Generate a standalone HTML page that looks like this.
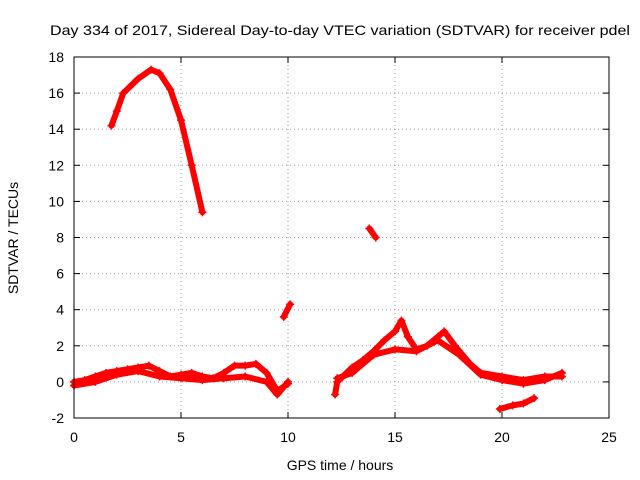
<!DOCTYPE html>
<html><head><meta charset="utf-8"><style>
body{margin:0;background:#fff}
svg{display:block;font-family:"Liberation Sans",sans-serif}
</style></head><body>
<svg id="chart" width="640" height="480">
<text x="50" y="35" font-size="14" textLength="580" lengthAdjust="spacingAndGlyphs">Day 334 of 2017, Sidereal Day-to-day VTEC variation (SDTVAR) for receiver pdel</text>
<text x="340" y="470" font-size="14" text-anchor="middle">GPS time / hours</text>
<text transform="translate(18,238) rotate(-90)" font-size="14" text-anchor="middle">SDTVAR / TECUs</text>
<g id="grid"></g><g id="ticks"></g><g id="series"></g>
<rect x="74" y="57" width="535" height="361" fill="none" stroke="#000" stroke-width="1"/>
</svg>
<script>
const xTicks=[0,5,10,15,20,25];
const yTicks=[-2,0,2,4,6,8,10,12,14,16,18];
const arcTrace=[[1.75,14.2],[2,15],[2.3,16],[3,16.8],[3.6,17.3],[4,17.1],[4.5,16.2],[5,14.5],[5.5,12],[6,9.4]];
const earlyUpper=[[0,0],[0.5,0.1],[1,0.3],[1.5,0.5],[2,0.6],[2.5,0.7],[3,0.8],[3.5,0.9],[4,0.6],[4.5,0.3],[5,0.4],[5.5,0.5],[6,0.3],[6.5,0.2],[7,0.5],[7.5,0.9],[8,0.9],[8.5,1.0],[9,0.5],[9.5,-0.5],[10,-0.1]];
const earlyLower=[[0,-0.2],[1,0],[2,0.4],[3,0.6],[4,0.3],[5,0.2],[6,0.1],[7,0.2],[8,0.3],[9,0],[9.5,-0.7],[10,0]];
const shortA=[[9.8,3.6],[10.1,4.3]];
const shortB=[[13.8,8.5],[14.1,8.0]];
const lateUpper=[[12.2,-0.7],[12.3,0],[13,0.8],[13.5,1.2],[14,1.7],[14.5,2.3],[15,2.8],[15.3,3.4],[15.6,2.5],[16,1.8],[16.5,2.0],[17,2.5],[17.3,2.8],[17.8,2.0],[18.5,1.0],[19,0.5],[20,0.3],[21,0.1],[22,0.3],[22.8,0.3]];
const lateLower=[[12.3,0.2],[13,0.5],[14,1.5],[15,1.8],[16,1.7],[17,2.3],[18,1.5],[19,0.4],[20,0.1],[21,-0.1],[22,0.1],[22.8,0.5]];
const lowTrace=[[19.9,-1.5],[20.5,-1.3],[21,-1.2],[21.5,-0.9]];
const traces=[arcTrace,earlyUpper,earlyLower,shortA,shortB,lateUpper,lateLower,lowTrace];
const X=v=>74+v*(535/25), Y=v=>418-(v+2)*(361/20);
const NS="http://www.w3.org/2000/svg";
const g=document.getElementById('grid'),t=document.getElementById('ticks'),s=document.getElementById('series');
function mk(tag,at,par){const e=document.createElementNS(NS,tag);for(const k in at)e.setAttribute(k,at[k]);par.appendChild(e);return e;}
xTicks.forEach(v=>{
 if(v>0&&v<25){const l=mk('line',{x1:X(v),x2:X(v),y1:57,y2:418,stroke:'#a0a0a0','stroke-dasharray':'1,3'},g);
 
 }
 mk('line',{x1:X(v),x2:X(v),y1:418,y2:412,stroke:'#000'},t);
 mk('line',{x1:X(v),x2:X(v),y1:57,y2:63,stroke:'#000'},t);
 const tx=mk('text',{x:X(v),y:442,'font-size':14,'text-anchor':'middle'},t);tx.textContent=v;
 
 
});
yTicks.forEach(v=>{
 if(v>-2&&v<18){const l=mk('line',{x1:74,x2:609,y1:Y(v),y2:Y(v),stroke:'#a0a0a0','stroke-dasharray':'1,3'},g);
 
 }
 mk('line',{x1:74,x2:80,y1:Y(v),y2:Y(v),stroke:'#000'},t);
 mk('line',{x1:603,x2:609,y1:Y(v),y2:Y(v),stroke:'#000'},t);
 const tx=mk('text',{x:64,y:Y(v)+5,'font-size':14,'text-anchor':'end'},t);tx.textContent=v;
 
 
});
traces.forEach(tr=>{
 const p=mk('polyline',{points:tr.map(d=>X(d[0])+','+Y(d[1])).join(' '),fill:'none',stroke:'#ff0000','stroke-width':6,'stroke-linejoin':'round','stroke-linecap':'round'},s);
 
 
 tr.forEach(d=>{
  const m=mk('path',{d:`M${X(d[0])-4},${Y(d[1])}h8M${X(d[0])},${Y(d[1])-4}v8`,stroke:'#ff0000','stroke-width':1.5},s);
  
  
 });
});
</script>
</body></html>
